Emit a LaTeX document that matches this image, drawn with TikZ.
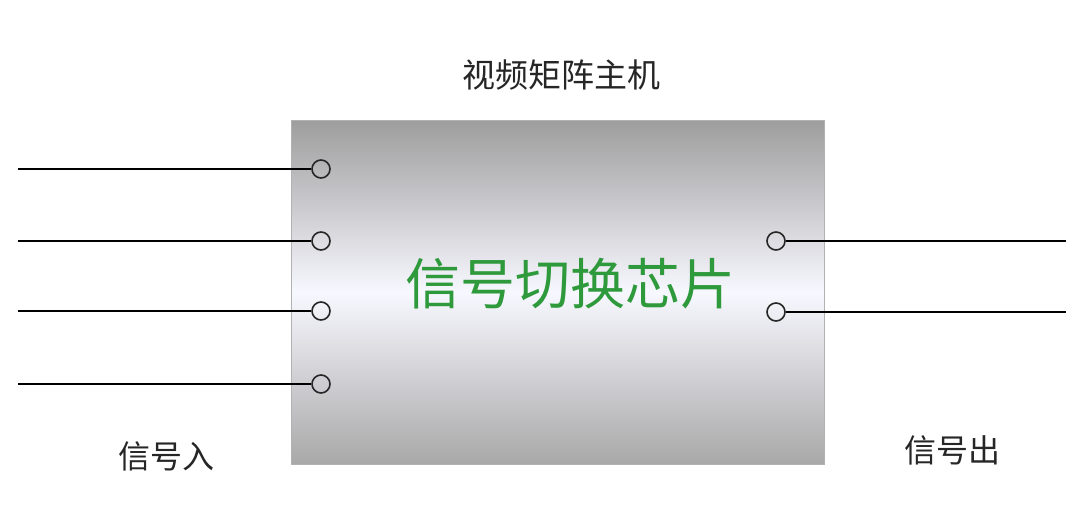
\documentclass[tikz,border=0pt]{standalone}
\usepackage{fontspec}
\newfontfamily\cjk{Noto Sans CJK SC}
\definecolor{chipgreen}{HTML}{2E9A3C}
\begin{document}
\begin{tikzpicture}[x=1pt,y=-1pt,
  port/.style={circle,draw=black!85,line width=1.6pt,minimum size=18pt,inner sep=0pt},
  wire/.style={draw=black,line width=1.6pt},
  lbl/.style={font=\cjk\fontsize{32}{34}\selectfont,text=black!85,inner sep=0pt}]
\useasboundingbox (0,0) rectangle (1066,524);
\fill[white] (0,0) rectangle (1066,524);
\node[draw=black!30,line width=1pt,minimum width=533pt,minimum height=343pt,inner sep=0pt,
  top color=black!38,bottom color=black!34,middle color=white!97!blue] (chip) at (557.5,292.5) {};
\node[lbl,font=\cjk\fontsize{33}{35}\selectfont] (title) at (561,75) {视频矩阵主机};
\node[font=\cjk\fontsize{55}{57}\selectfont,text=chipgreen,inner sep=0pt] (core) at (570,284) {信号切换芯片};
\node[lbl] (in) at (166,456) {信号入};
\node[lbl] (out) at (952,450) {信号出};
\foreach \i/\yy in {1/169,2/241,3/311,4/384}{
  \node[port] (p\i) at (321,\yy) {};
  \coordinate (s\i) at (18,\yy);
  \draw[wire] (s\i) -- (p\i.west);
}
\foreach \i/\yy in {1/241,2/312}{
  \node[port] (q\i) at (776,\yy) {};
  \coordinate (e\i) at (1066,\yy);
  \draw[wire] (q\i.east) -- (e\i);
}
\end{tikzpicture}
\end{document}
